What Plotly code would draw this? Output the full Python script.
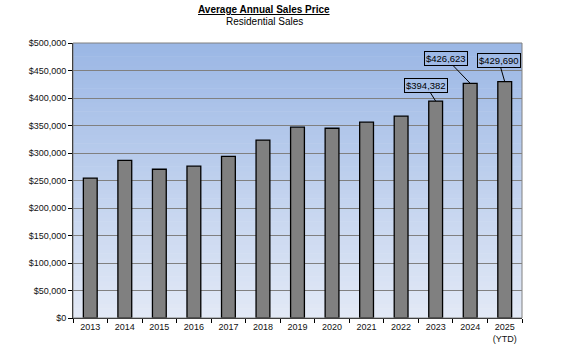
import plotly.graph_objects as go

years = ["2013", "2014", "2015", "2016", "2017", "2018", "2019",
         "2020", "2021", "2022", "2023", "2024", "2025<br>(YTD)"]
avg_price = [254500, 286500, 270500, 276000, 294000, 323500, 347000,
             345000, 356000, 367000, 394382, 426623, 429690]
labeled = {10: "$394,382", 11: "$426,623", 12: "$429,690"}
label_offsets = {10: (-10, -16), 11: (-24, -25), 12: (-6, -21)}

font = "Liberation Sans, Arial, sans-serif"

fig = go.Figure()
fig.add_trace(go.Bar(
    x=years, y=avg_price,
    marker=dict(color="#808080", line=dict(color="#000000", width=1.3)),
    hoverinfo="skip",
))

# gradient plot background
n = 60
top = (155, 183, 229)
bot = (226, 233, 246)
shapes = []
for i in range(n):
    t = i / (n - 1)
    c = tuple(round(bot[k] + (top[k] - bot[k]) * t) for k in range(3))
    shapes.append(dict(type="rect", xref="paper", yref="paper",
                       x0=0, x1=1, y0=i / n, y1=min(1, (i + 1) / n + 0.002),
                       fillcolor="rgb(%d,%d,%d)" % c, line=dict(width=0),
                       layer="below"))
shapes.append(dict(type="rect", xref="paper", yref="paper",
                   x0=0, x1=1, y0=0, y1=1, line=dict(color="#808080", width=1),
                   layer="above"))

annotations = []
for i, txt in labeled.items():
    ax, ay = label_offsets[i]
    annotations.append(dict(
        x=i, y=avg_price[i], text=txt, showarrow=True,  # category index on the x axis
        arrowhead=0, arrowwidth=1, arrowcolor="#000000", ax=ax, ay=ay,
        font=dict(family=font, size=9.5, color="#000000"),
        bordercolor="#000000", borderwidth=1, borderpad=1,
        bgcolor="rgba(0,0,0,0)",
    ))

PW, PH = 449, 275
annotations.append(dict(xref="paper", yref="paper", x=(264 - 73) / PW, y=1 + (43 - 10) / PH,
                        text="<b><u>Average Annual Sales Price</u></b>", showarrow=False,
                        xanchor="center", yanchor="middle",
                        font=dict(family=font, size=10, color="#000000")))
annotations.append(dict(xref="paper", yref="paper", x=(264 - 73) / PW, y=1 + (43 - 21.5) / PH,
                        text="Residential Sales", showarrow=False,
                        xanchor="center", yanchor="middle",
                        font=dict(family=font, size=10, color="#000000")))

fig.update_layout(
    width=568, height=358,
    margin=dict(l=73, r=46, t=43, b=40),
    paper_bgcolor="#ffffff", plot_bgcolor="rgba(0,0,0,0)",
    showlegend=False,
    shapes=shapes,
    annotations=annotations,
    bargap=0.6,
    font=dict(family=font, size=9, color="#000000"),
)

fig.update_yaxes(range=[0, 500000], dtick=50000, tickformat="$,.0f",
                 showgrid=True, gridcolor="#808080", gridwidth=1,
                 showline=True, linecolor="#000000", linewidth=1,
                 ticks="outside", ticklen=4, tickcolor="#000000",
                 zeroline=False, tickfont=dict(size=9, color="#111111"))
fig.update_xaxes(type="category", range=[-0.5, 12.5], showgrid=False, showline=True,
                 linecolor="#000000", linewidth=1,
                 ticks="outside", ticklen=4, tickcolor="#000000", tickson="boundaries",
                 tickangle=0, tickfont=dict(size=9, color="#111111"))

fig.write_html("out.html", config={"displayModeBar": False},
               post_script="document.body.style.margin='0';")
